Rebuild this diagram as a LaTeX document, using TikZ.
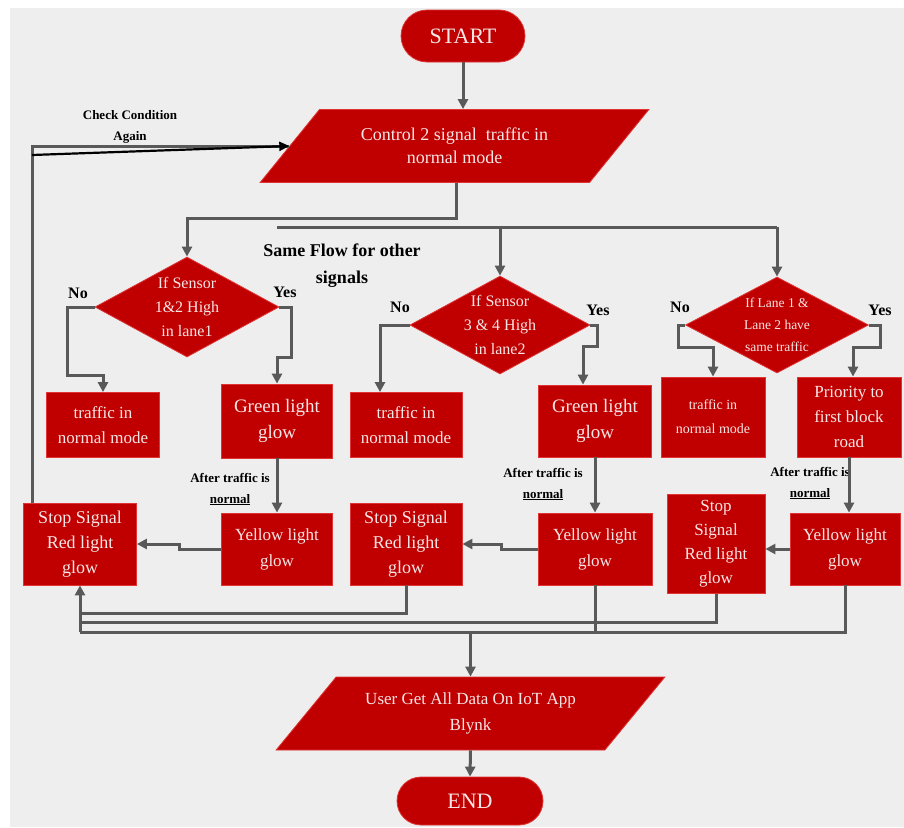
\documentclass[tikz,border=0pt]{standalone}
\usepackage{fontspec}
\setmainfont{Liberation Serif}
\usepackage{tikz}
\usetikzlibrary{calc, arrows.meta, shapes.geometric, shapes.misc}
\definecolor{boxred}{HTML}{C00000}
\definecolor{edgered}{HTML}{E03434}
\definecolor{linegray}{HTML}{595959}
\definecolor{boxtext}{HTML}{F7E6E6}
\definecolor{paper}{HTML}{EEEEEE}

\begin{document}
\begin{tikzpicture}[x=1pt, y=-1pt,
    box/.style={fill=boxred, draw=edgered, line width=0.8pt, text=boxtext, align=center, inner sep=2pt},
    terminal/.style={box, rounded rectangle, minimum width=128pt, minimum height=52pt, font=\fontsize{22}{26}\selectfont},
    io/.style={box, trapezium, trapezium left angle=43.5, trapezium right angle=136.5, trapezium stretches=true,
        minimum width=389pt, minimum height=73pt},
    decision/.style={box, diamond, aspect=1.84, inner sep=-4pt, font=\fontsize{16}{24}\selectfont},
    process/.style={box, font=\fontsize{17}{25}\selectfont},
    link/.style={draw=linegray, line width=3pt},
    arr/.style={link, -{Triangle[length=10pt, width=10pt]}},
    loopback/.style={draw=black, line width=2.2pt, -{Triangle[length=10pt, width=9pt]}},
    lbl/.style={text=black, font=\fontsize{16}{18}\selectfont\bfseries},
    note/.style={text=black, align=center, font=\fontsize{13}{21}\selectfont\bfseries}]

    % background
    \useasboundingbox (0,0) rectangle (904,827);
    \fill[white] (0,0) rectangle (904,827);
    \fill[paper] (10,8) rectangle (904,827);

    % top
    \node[terminal] (start) at (463,36) {START};
    \node[io, font=\fontsize{18}{23}\selectfont] (ctrl) at (454.5,146) {Control 2 signal\ \ traffic in\\normal mode};

    % decisions
    \node[decision, minimum width=184pt, minimum height=100pt] (d1) at (187,307) {If Sensor\\1\&2 High\\in lane1};
    \node[decision, minimum width=180pt, minimum height=98pt] (d2) at (500,325) {If Sensor\\3 \& 4 High\\in lane2};
    \node[decision, minimum width=183pt, minimum height=96pt, font=\fontsize{13.5}{22}\selectfont] (d3) at (777,325) {If Lane 1 \&\\Lane 2 have\\same traffic};

    \node[lbl] (no1) at (78,293) {No};
    \node[lbl] (yes1) at (285,292) {Yes};
    \node[lbl] (no2) at (400,307) {No};
    \node[lbl] (yes2) at (598,310) {Yes};
    \node[lbl] (no3) at (680,307) {No};
    \node[lbl] (yes3) at (880,310) {Yes};
    \node[note, font=\fontsize{18}{27}\selectfont\bfseries] (same) at (342,266) {Same Flow for other\\signals};

    % second row
    \node[process, minimum width=113pt, minimum height=65pt] (b1) at (103,425) {traffic in\\normal mode};
    \node[process, minimum width=111pt, minimum height=74pt, font=\fontsize{19}{26}\selectfont] (g1) at (277,421) {Green light\\glow};
    \node[process, minimum width=112pt, minimum height=65pt] (b2) at (406,425) {traffic in\\normal mode};
    \node[process, minimum width=113pt, minimum height=72pt, font=\fontsize{19}{26}\selectfont] (g2) at (595,421) {Green light\\glow};
    \node[process, minimum width=104pt, minimum height=80pt, font=\fontsize{14}{24}\selectfont] (b3) at (713,417) {traffic in\\normal mode};
    \node[process, minimum width=104pt, minimum height=80pt] (pr) at (849,417) {Priority to\\first block\\road};

    % third row
    \node[process, minimum width=113pt, minimum height=82pt, font=\fontsize{18}{25}\selectfont] (r1) at (80,544) {Stop Signal\\Red light\\glow};
    \node[process, minimum width=111pt, minimum height=72pt, font=\fontsize{17}{26}\selectfont] (y1) at (277,549) {Yellow light\\glow};
    \node[process, minimum width=112pt, minimum height=82pt, font=\fontsize{18}{25}\selectfont] (r2) at (406,544) {Stop Signal\\Red light\\glow};
    \node[process, minimum width=114pt, minimum height=72pt, font=\fontsize{17}{26}\selectfont] (y2) at (595,549) {Yellow light\\glow};
    \node[process, minimum width=98pt, minimum height=99pt, font=\fontsize{17}{24}\selectfont] (r3) at (716,544) {Stop\\Signal\\Red light\\glow};
    \node[process, minimum width=110pt, minimum height=72pt, font=\fontsize{17}{26}\selectfont] (y3) at (845,549) {Yellow light\\glow};

    \node[note] (after1) at (230,489) {After traffic is\\\underline{normal}};
    \node[note] (after2) at (543,484) {After traffic is\\\underline{normal}};
    \node[note] (after3) at (810,483) {After traffic is\\\underline{normal}};

    % bottom
    \node[io, font=\fontsize{17}{26}\selectfont] (usr) at (470.5,713.5) {User Get All Data On IoT App\\Blynk};
    \node[terminal, minimum width=150pt, minimum height=48pt] (end) at (470,801) {END};

    % loop back
    \node[note] (check) at (130,127) {Check Condition\\Again};
    \coordinate (loopFoot) at ([xshift=-48pt]r1.north);
    \coordinate (loopTop) at (loopFoot |- ctrl.left side);
    \draw[link] (loopFoot) -- (loopTop) -- (ctrl.left side);
    \draw[loopback] ([yshift=-9pt]loopTop) -- (ctrl.left side);

    % fork to the decisions
    \draw[arr] (start.south) -- (start.south |- ctrl.top side);
    \coordinate (fork) at (456,218);
    \draw[arr] (fork |- ctrl.bottom side) -- (fork) -| (d1.north);
    \coordinate (busW) at (277,227);
    \coordinate (busE) at (d3.north |- busW);
    \draw[link] (busW) -- (busE);
    \draw[arr] (d2.north |- busW) -- (d2.north);
    \draw[arr] (busE) -- (d3.north);

    % yes / no branches
    \draw[arr] (d1.west) -- ++(-27,0) |- ([yshift=17pt]b1.north) -- (b1.north);
    \draw[arr] (d1.east) -- ++(12,0) |- ([yshift=26pt]g1.north) -- (g1.north);
    \draw[arr] (d2.west) -| ([xshift=-26pt]b2.north);
    \draw[arr] (d2.east) -- ++(7,0) |- ([xshift=-12pt, yshift=38pt]g2.north) -- ([xshift=-12pt]g2.north);
    \draw[arr] (d3.west) -- ++(-7,0) |- ([yshift=29pt]b3.north) -- (b3.north);
    \draw[arr] (d3.east) -- ++(12,0) |- ([xshift=4pt, yshift=29pt]pr.north) -- ([xshift=4pt]pr.north);

    % green -> yellow -> red
    \draw[arr] (g1) -- (y1);
    \draw[arr] (g2) -- (y2);
    \draw[arr] (pr.south) -- (pr.south |- y3.north);
    \draw[arr] (y1.west) -- ++(-42,0) |- (r1.east);
    \draw[arr] (y2.west) -- ++(-36,0) |- (r2.east);
    \draw[arr] (y3.west) -- (y3.west -| r3.east);

    % collecting lines
    \coordinate (busLow) at ([yshift=-47pt]r1.south);
    \draw[link] (r2.south) |- ([yshift=-28pt]r1.south);
    \draw[link] (r3.south) |- ([yshift=-37pt]r1.south);
    \draw[link] (y3.south) |- (busLow);
    \draw[link] (y2.south) -- (y2.south |- busLow);
    \draw[arr] (busLow) -- (r1.south);
    \draw[arr] (busLow -| usr.center) -- (usr.center |- usr.top side);
    \draw[arr] (usr.center |- usr.bottom side) -- (end.north);
\end{tikzpicture}
\end{document}
